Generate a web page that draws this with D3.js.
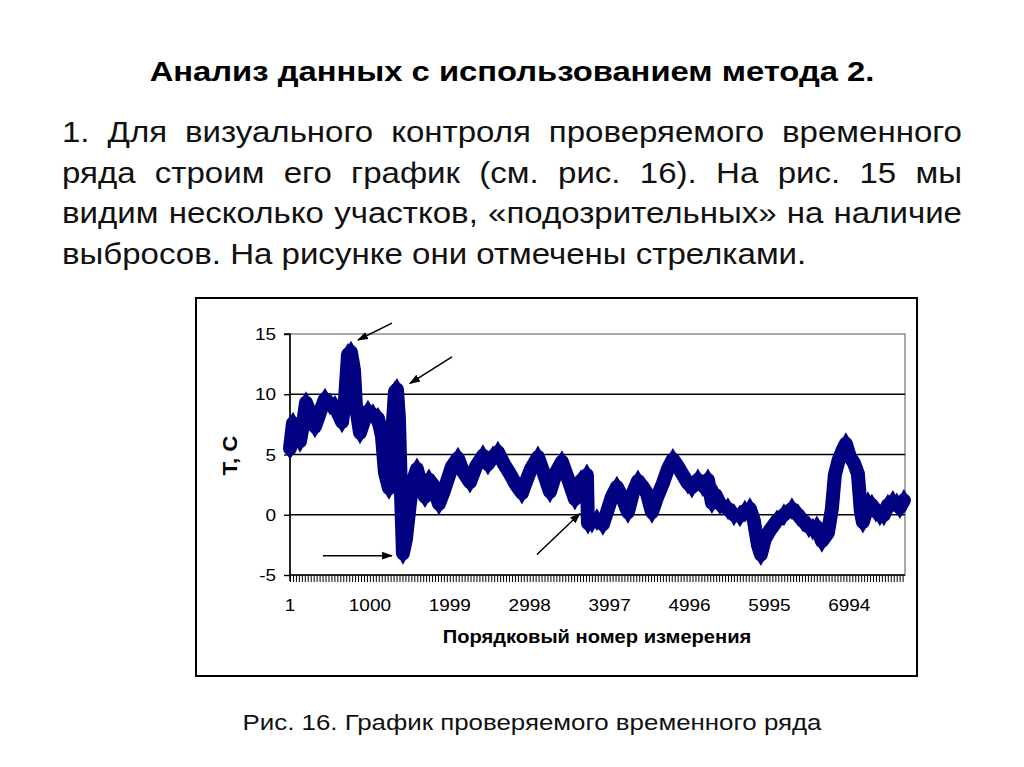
<!DOCTYPE html>
<html><head><meta charset="utf-8">
<script src="https://cdn.jsdelivr.net/npm/d3@7/dist/d3.min.js"></script>
<style>
html,body{margin:0;padding:0;background:#fff;}
svg{display:block;font-family:"Liberation Sans",Arial,sans-serif;}
</style></head>
<body>
<script>
// ---- data ----
const titleText = "Анализ данных с использованием метода 2.";
const bodyLines = [
  "1. Для визуального контроля проверяемого временного",
  "ряда строим его график (см. рис. 16). На рис. 15 мы",
  "видим несколько участков, «подозрительных» на наличие",
  "выбросов. На рисунке они отмечены стрелками."
];
const captionText = "Рис. 16. График проверяемого временного ряда";
const yTitle = "Т, С";
const xTitle = "Порядковый номер измерения";

const xTickValues = [1, 1000, 1999, 2998, 3997, 4996, 5995, 6994];
const yTickValues = [-5, 0, 5, 10, 15];
const nPoints = 7690;

// sampled measurement number / value pairs (T, C)
const sampleIndex = [1,38,88,126,163,201,251,313,376,438,501,563,651,688,726,763,801,826,876,926,976,1038,1101,1151,1188,1238,1276,1313,1338,1363,1388,1413,1451,1501,1538,1588,1638,1688,1738,1788,1863,1926,2026,2101,2163,2251,2326,2413,2476,2538,2601,2676,2751,2826,2901,2938,3013,3101,3176,3251,3326,3401,3476,3563,3638,3713,3726,3776,3838,3913,3963,4026,4088,4151,4226,4288,4351,4413,4463,4526,4588,4663,4726,4788,4851,4913,4976,5026,5101,5163,5226,5276,5326,5376,5476,5551,5626,5688,5751,5801,5851,5888,5938,6001,6088,6176,6276,6351,6413,6488,6538,6588,6651,6726,6776,6813,6863,6913,6951,7001,7051,7101,7138,7163,7201,7226,7276,7326,7376,7426,7476,7538,7588,7626,7676];
const sampleValue = [5.5,7.6,6.8,6.1,7.5,9.3,8.5,7.3,8.5,9.6,9.2,9.0,7.7,9.5,13.3,13.5,12.0,9.0,6.8,7.8,8.6,8.3,8.0,6.5,3.5,2.2,6.5,10.2,10.4,8.0,2.0,-3.2,-2.0,1.0,2.8,3.8,2.5,1.5,2.9,2.5,0.9,2.0,4.0,4.7,3.6,2.7,4.0,4.9,4.2,4.8,5.2,4.2,3.4,2.5,1.8,2.5,3.8,4.8,3.4,1.9,3.5,4.4,3.0,1.3,2.8,3.3,-0.7,-0.6,-0.4,-0.8,0.2,1.5,2.3,1.5,0.2,1.8,2.8,2.3,1.8,0.2,1.4,2.6,3.8,4.6,4.0,3.3,2.6,2.3,2.9,2.4,2.9,1.0,1.6,0.9,0.5,0.0,-0.1,0.3,0.5,-0.5,-2.5,-3.3,-2.0,-1.3,-0.5,0.0,0.5,0.0,-0.5,-1.0,-1.2,-1.0,-2.2,-1.5,0.5,3.3,4.6,5.4,5.9,4.8,4.3,3.4,0.3,-0.6,0.2,1.0,0.8,0.3,0.0,0.0,0.8,1.1,0.9,0.6,1.2];

// annotation arrows (tail index, tail value, head index, head value)
const arrowTailIndex = [1276, 2026, 413, 3088];
const arrowTailValue = [15.9, 13.1, -3.4, -3.3];
const arrowHeadIndex = [851, 1501, 1276, 3626];
const arrowHeadValue = [14.5, 10.9, -3.4, 0.1];

// ---- drawing ----
const W = 1024, H = 767, SX = 1.15; // text in the picture is horizontally widened
const svg = d3.select("body").append("svg").attr("width", W).attr("height", H);
svg.append("rect").attr("width", W).attr("height", H).attr("fill", "#fff");

function wideText(parent, cx, cy, str, size, weight, anchor, rot, sx) {
  const g = parent.append("g").attr("transform", `translate(${cx},${cy})` + (rot ? ` rotate(${rot})` : "") + ` scale(${sx || SX},1)`);
  return g.append("text").attr("text-anchor", anchor || "middle").attr("font-size", size)
    .attr("font-weight", weight || "normal").attr("fill", "#000").text(str);
}

// title
wideText(svg, 512, 81, titleText, 28.5, "bold");

// body text, justified except last line
const bodyLeft = 62, bodyRight = 962, bodyTop = 142, lineGap = 40.7, bodyFont = 29.5, bodySX = 1.12;
bodyLines.forEach((line, i) => {
  const yb = bodyTop + i * lineGap;
  const words = line.split(" ");
  const g = svg.append("g").attr("transform", `translate(${bodyLeft},${yb}) scale(${bodySX},1)`);
  const nodes = words.map(w => g.append("text").attr("font-size", bodyFont).attr("fill", "#111").text(w));
  const widths = nodes.map(n => n.node().getComputedTextLength());
  const total = d3.sum(widths);
  const isLast = i === bodyLines.length - 1;
  const avail = (bodyRight - bodyLeft) / bodySX;
  const spaceW = isLast ? bodyFont * 0.278 : (avail - total) / (words.length - 1);
  let xx = 0;
  nodes.forEach((n, k) => { n.attr("x", xx); xx += widths[k] + spaceW; });
});

// caption
wideText(svg, 532, 730, captionText, 22.5, "normal").attr("fill", "#111");

// chart frame
svg.append("rect").attr("x", 196).attr("y", 298).attr("width", 721).attr("height", 378)
  .attr("fill", "#fff").attr("stroke", "#000").attr("stroke-width", 2);

const pl = 290, pr = 905, pt = 334, pb = 575;
const x = d3.scaleLinear().domain([1, nPoints]).range([pl, pr]);
const y = d3.scaleLinear().domain([-5, 15]).range([pb, pt]);

// plot area border (gray top/right)
svg.append("rect").attr("x", pl).attr("y", pt).attr("width", pr - pl).attr("height", pb - pt)
  .attr("fill", "none").attr("stroke", "#8c8c8c").attr("stroke-width", 1.5);

// gridlines
svg.append("g").selectAll("line").data(yTickValues.filter(v => v > -5 && v < 15)).join("line")
  .attr("x1", pl).attr("x2", pr).attr("y1", d => y(d)).attr("y2", d => y(d))
  .attr("stroke", "#000").attr("stroke-width", 1.6);

// y axis
const yAxis = d3.axisLeft(y).tickValues(yTickValues).tickSize(6).tickFormat("");
const gy = svg.append("g").attr("transform", `translate(${pl},0)`).call(yAxis);
gy.select(".domain").attr("stroke", "#000").attr("stroke-width", 1.6).attr("d", `M-6,${pt}H0V${pb + 6}`);
gy.selectAll(".tick line").attr("stroke", "#000").attr("stroke-width", 1.4);
yTickValues.forEach(v => wideText(svg, 276, y(v) + 6, String(v), 16.5, "normal", "end"));

// x axis: minor ticks every 37 measurements, labels every 999
const minorTicks = d3.range(1, nPoints, 37);
const gxMinor = svg.append("g").attr("transform", `translate(0,${pb})`)
  .call(d3.axisBottom(x).tickValues(minorTicks).tickSize(7).tickFormat(""));
gxMinor.select(".domain").attr("stroke", "#000").attr("stroke-width", 1.6).attr("d", `M${pl},0H${pr}`);
gxMinor.selectAll(".tick line").attr("stroke", "#000").attr("stroke-width", 1);
xTickValues.forEach(v => wideText(svg, x(v), pb + 36, String(v), 16.5, "normal", "middle"));

// axis titles
wideText(svg, 237, (pt + pb) / 2 + 1, yTitle, 19.5, "bold", "middle", -90);
wideText(svg, 597, 643, xTitle, 17.5, "bold", "middle");

// series
const pts = sampleIndex.map((d, i) => ({ i: d, v: sampleValue[i] }));
const navy = "#000080";
svg.append("path").datum(pts)
  .attr("d", d3.line().x(d => x(d.i)).y(d => y(d.v)))
  .attr("fill", "none").attr("stroke", navy).attr("stroke-width", 14)
  .attr("stroke-linejoin", "round").attr("stroke-linecap", "round");
svg.append("g").selectAll("path").data(pts).join("path")
  .attr("transform", d => `translate(${x(d.i)},${y(d.v)})`)
  .attr("d", d3.symbol().type(d3.symbolDiamond).size(150))
  .attr("fill", navy);

// arrows
const defs = svg.append("defs");
defs.append("marker").attr("id", "ah").attr("viewBox", "0 0 10 10").attr("refX", 9).attr("refY", 5)
  .attr("markerWidth", 11).attr("markerHeight", 11).attr("markerUnits", "userSpaceOnUse").attr("orient", "auto")
  .append("path").attr("d", "M0,1.5L10,5L0,8.5Z").attr("fill", "#000");
svg.append("g").selectAll("line").data(arrowTailIndex).join("line")
  .attr("x1", (d, k) => x(d)).attr("y1", (d, k) => y(arrowTailValue[k]))
  .attr("x2", (d, k) => x(arrowHeadIndex[k])).attr("y2", (d, k) => y(arrowHeadValue[k]))
  .attr("stroke", "#000").attr("stroke-width", 1.5).attr("marker-end", "url(#ah)");
</script>
</body></html>
